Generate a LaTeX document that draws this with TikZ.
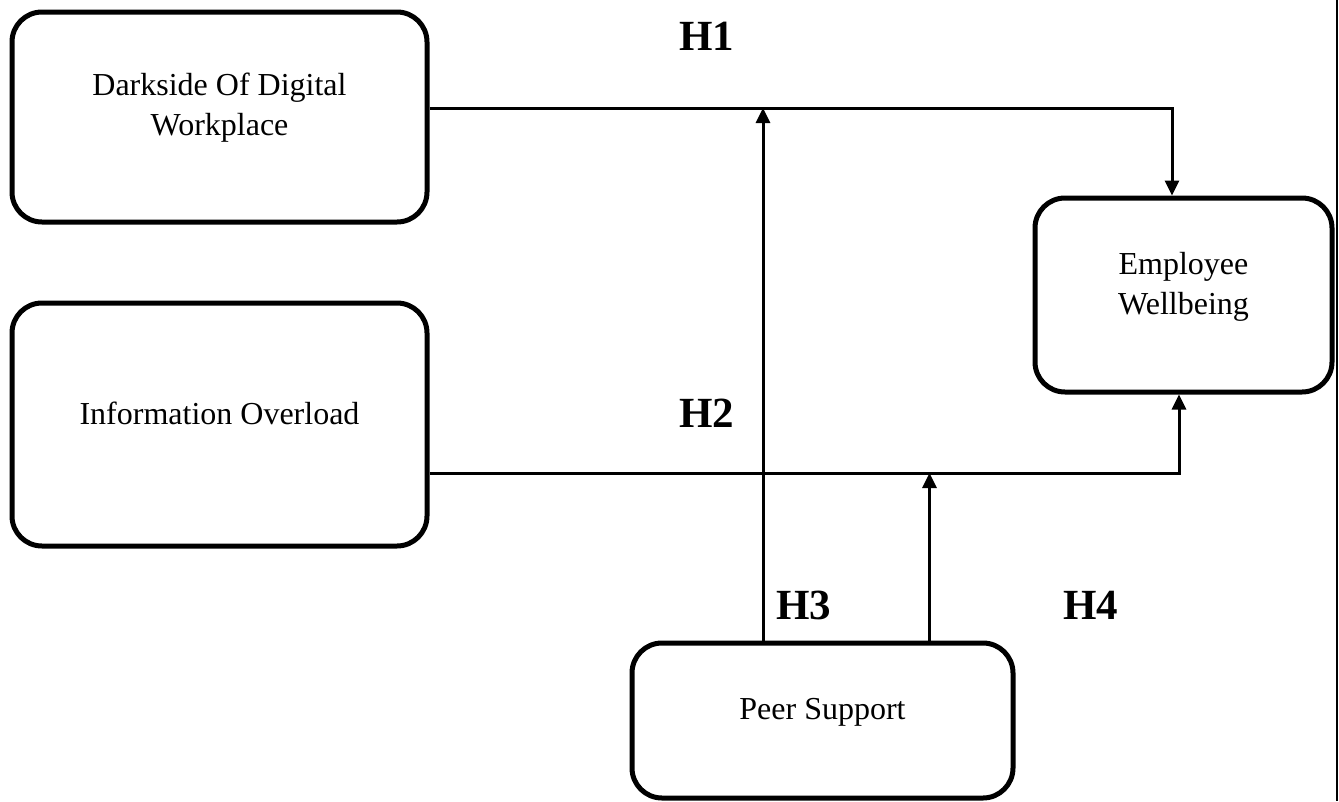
\documentclass[tikz,border=0pt]{standalone}
\usepackage{fontspec}
\setmainfont{Liberation Serif}
\usetikzlibrary{arrows.meta,calc}
\begin{document}
\begin{tikzpicture}[x=1pt,y=-1pt,
  box/.style={draw,line width=5pt,rounded corners=30pt,inner sep=0pt},
  txt/.style={font=\fontsize{32}{40}\selectfont,align=center,inner sep=0pt},
  hyp/.style={font=\fontsize{43}{43}\selectfont\bfseries,inner sep=0pt},
  conn/.style={line width=3pt},
  arr/.style={conn,-{Triangle[length=15pt,width=14pt]}}]
\useasboundingbox (0,0) rectangle (1339,801);
\draw[line width=2.5pt] (1337,0) -- (1337,801);
\node[box,minimum width=415pt,minimum height=210pt] (dark) at (219.5,117) {};
\node[txt] (darkt) at (219.5,108) {Darkside Of Digital\\Workplace};
\node[box,minimum width=415pt,minimum height=243pt] (info) at (219.5,424.5) {};
\node[txt] (infot) at (219.5,413) {Information Overload};
\node[box,minimum width=297pt,minimum height=194pt] (well) at (1183.5,295) {};
\node[txt] (wellt) at (1183.5,287) {Employee\\Wellbeing};
\node[box,minimum width=381pt,minimum height=155pt] (peer) at (822.5,720.5) {};
\node[txt] (peert) at (822.5,712) {Peer Support};
\node[hyp] (h1) at (707,36) {H1};
\node[hyp] (h2) at (707,413) {H2};
\node[hyp] (h3) at (804,605) {H3};
\node[hyp] (h4) at (1091,605) {H4};
\coordinate (d1) at ([yshift=9pt]dark.east);
\coordinate (i1) at ([yshift=-48.5pt]info.east);
\coordinate (p1) at ([xshift=-59.5pt]peer.north);
\coordinate (p2) at ([xshift=107pt]peer.north);
\draw[arr] (d1) -| ([xshift=-11.5pt]well.north);
\draw[arr] (i1) -| ([xshift=-4.5pt]well.south);
\draw[arr] (p1) -- (p1 |- d1);
\draw[arr] (p2) -- (p2 |- i1);
\end{tikzpicture}
\end{document}
